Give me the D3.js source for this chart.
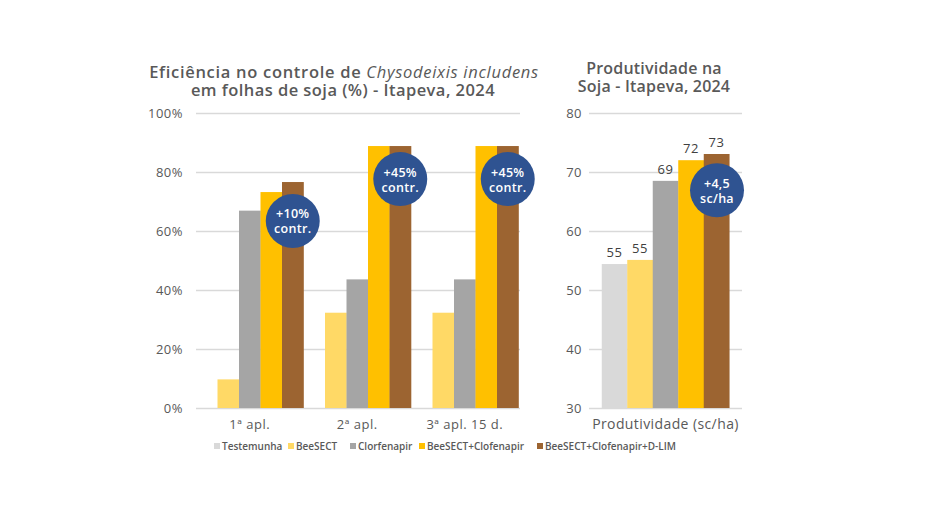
<!DOCTYPE html>
<html><head><meta charset="utf-8">
<script src="https://cdn.jsdelivr.net/npm/d3@7"></script>
<style>
body{margin:0;background:#fff;}
svg{display:block;font-family:"Open Sans","Noto Sans",sans-serif;}
</style></head>
<body><svg id="c" width="940" height="530"></svg>
<script>
// ---- data ----
const series = ["Testemunha","BeeSECT","Clorfenapir","BeeSECT+Clofenapir","BeeSECT+Clofenapir+D-LIM"];
const colors = ["#d9d9d9","#ffd966","#a5a5a5","#ffc000","#9c6431"];
const groups = ["1ª apl.","2ª apl.","3ª apl. 15 d."];
const testemunha = [0,0,0];
const beesect = [9.7,32.3,32.3];
const clorfenapir = [66.9,43.6,43.6];
const beeClorf = [73.2,88.8,88.8];
const beeClorfDlim = [76.6,88.8,88.8];
const leftTicks = [0,20,40,60,80,100];
const leftBadges = ["+10%|contr.","+45%|contr.","+45%|contr."];
const leftBadgeY = [63.4,77.6,77.6];

const prodCategory = "Produtividade (sc/ha)";
const prodValues = [54.4,55.1,68.5,72.0,73.05];
const prodLabels = ["55","55","69","72","73"];
const rightTicks = [30,40,50,60,70,80];
const rightBadge = "+4,5|sc/ha";
const rightBadgeY = 66.9;

const titleLeft1a = "Eficiência no controle de ";
const titleLeft1b = "Chysodeixis includens";
const titleLeft2 = "em folhas de soja (%) - Itapeva, 2024";
const titleRight = ["Produtividade na","Soja - Itapeva, 2024"];

const textCol = "#595959", gridCol = "#d9d9d9", badgeCol = "#2f5391";
const svg = d3.select("#c");

// ---- left chart ----
const yL = d3.scaleLinear().domain([0,100]).range([408,113]);
const xL = d3.scaleBand().domain(groups).range([196,518.5]).padding(0);
const xLi = d3.scaleBand().domain(series).range([0,xL.bandwidth()]).padding(0);
const leftData = [testemunha,beesect,clorfenapir,beeClorf,beeClorfDlim];

const gyL = svg.append("g").attr("transform","translate(196,0)")
  .call(d3.axisLeft(yL).tickValues(leftTicks).tickFormat(d=>d+"%").tickSize(-324).tickPadding(13));
gyL.select(".domain").remove();
gyL.selectAll("line").attr("stroke",gridCol).attr("stroke-width",1.3);
gyL.selectAll("text").attr("fill",textCol).attr("font-size",13).attr("font-family","Open Sans").attr("letter-spacing",0.5);

groups.forEach((g,gi)=>{
  series.forEach((s,si)=>{
    const v = leftData[si][gi];
    if(v<=0) return;
    svg.append("rect").attr("x",xL(g)+xLi(s)).attr("width",xLi.bandwidth()+0.3)
      .attr("y",yL(v)).attr("height",yL(0)-yL(v)).attr("fill",colors[si]);
  });
});
const gxL = svg.append("g").attr("transform","translate(0,408)")
  .call(d3.axisBottom(xL).tickSize(0).tickPadding(12));
gxL.select(".domain").remove();
gxL.selectAll("text").attr("fill",textCol).attr("font-size",13).attr("font-family","Open Sans").attr("letter-spacing",0.5);

function badge(cx,cy,label){
  const g = svg.append("g");
  g.append("circle").attr("cx",cx).attr("cy",cy).attr("r",27).attr("fill",badgeCol);
  const parts = label.split("|");
  const t = g.append("text").attr("text-anchor","middle").attr("fill","#fff")
    .attr("font-size",12.5).attr("font-weight",600).attr("letter-spacing",0.3);
  parts.forEach((p,i)=>{
    t.append("tspan").attr("x",cx).attr("y",cy+(i===0?-2.5:12.5)).text(p);
  });
}
groups.forEach((g,gi)=>{
  const s = series[4];
  badge(xL(g)+xLi(s)+xLi.bandwidth()/2, yL(leftBadgeY[gi]), leftBadges[gi]);
});

const tL = svg.append("text").attr("text-anchor","middle")
  .attr("fill",textCol).attr("font-size",16.5);
const l1 = tL.append("tspan").attr("x",344).attr("y",78).attr("letter-spacing",0.7);
l1.append("tspan").attr("font-weight",600).text(titleLeft1a);
l1.append("tspan").attr("font-style","italic").text(titleLeft1b);
tL.append("tspan").attr("x",343).attr("y",96).attr("font-weight",600).attr("letter-spacing",0.45).text(titleLeft2);

// ---- right chart ----
const yR = d3.scaleLinear().domain([30,80]).range([408,113]);
const xR = d3.scaleBand().domain([prodCategory]).range([589,742]).paddingOuter(0.1).paddingInner(0);
const xRi = d3.scaleBand().domain(series).range([0,xR.bandwidth()]).padding(0);

const gyR = svg.append("g").attr("transform","translate(589,0)")
  .call(d3.axisLeft(yR).tickValues(rightTicks).tickSize(-153).tickPadding(7));
gyR.select(".domain").remove();
gyR.selectAll("line").attr("stroke",gridCol).attr("stroke-width",1.3);
gyR.selectAll("text").attr("fill",textCol).attr("font-size",13).attr("font-family","Open Sans").attr("letter-spacing",0.5);

series.forEach((s,si)=>{
  const v = prodValues[si];
  const x = xR(prodCategory)+xRi(s);
  svg.append("rect").attr("x",x).attr("width",xRi.bandwidth()+0.3)
    .attr("y",yR(v)).attr("height",yR(30)-yR(v)).attr("fill",colors[si]);
  svg.append("text").attr("x",x+xRi.bandwidth()/2).attr("y",yR(v)-7).attr("text-anchor","middle")
    .attr("fill","#404040").attr("font-size",13).attr("font-weight",500).attr("letter-spacing",0.5).text(prodLabels[si]);
});
const gxR = svg.append("g").attr("transform","translate(0,408)")
  .call(d3.axisBottom(xR).tickSize(0).tickPadding(11));
gxR.select(".domain").remove();
gxR.selectAll("text").attr("fill",textCol).attr("font-size",14).attr("font-family","Open Sans").attr("letter-spacing",0.4);

badge(xR(prodCategory)+xRi(series[4])+xRi.bandwidth()/2+0.5, yR(rightBadgeY), rightBadge);

const tR = svg.append("text").attr("text-anchor","middle")
  .attr("fill",textCol).attr("font-size",16).attr("font-weight",600).attr("letter-spacing",0.2);
titleRight.forEach((t,i)=>{
  tR.append("tspan").attr("x",654).attr("y",74+i*18).text(t);
});

// ---- legend ----
const legX = [214,288,350,419,537];
series.forEach((s,i)=>{
  svg.append("rect").attr("x",legX[i]).attr("y",443).attr("width",6).attr("height",6).attr("fill",colors[i]);
  svg.append("text").attr("x",legX[i]+8).attr("y",449.5).attr("fill",textCol)
    .attr("font-size",10).attr("font-weight",600).text(s);
});
</script></body></html>
